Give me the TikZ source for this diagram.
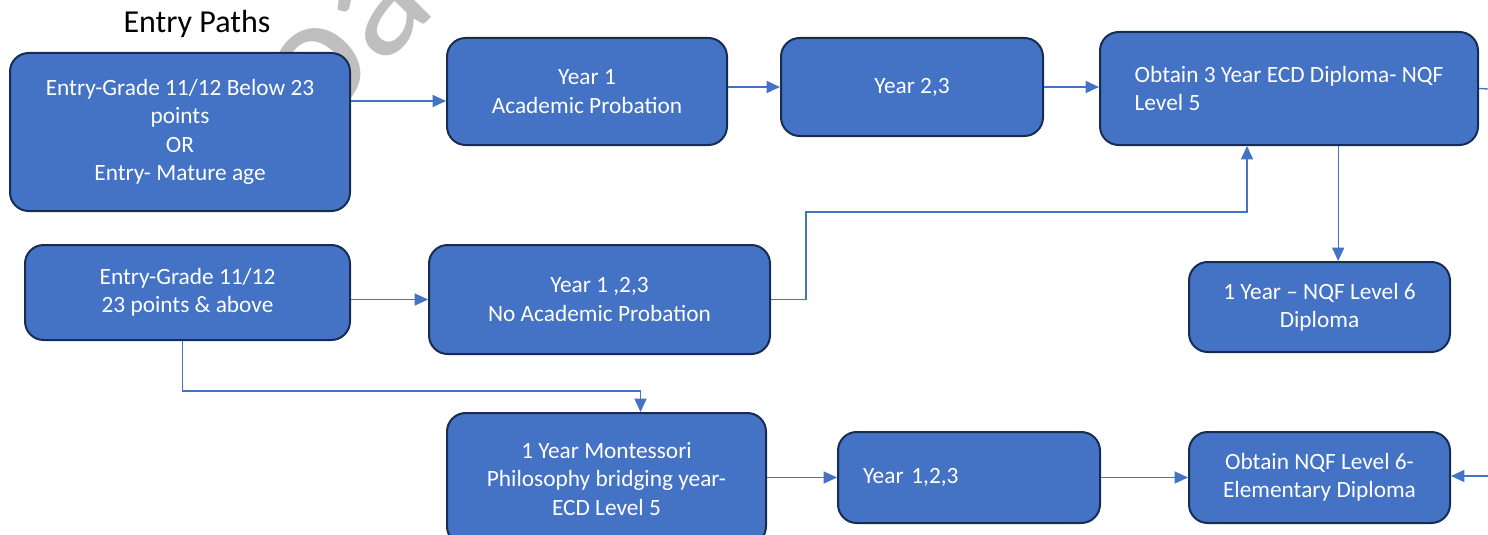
\documentclass[tikz,border=0pt]{standalone}
\usepackage{fontspec}
\setmainfont{Carlito}
\usetikzlibrary{arrows.meta}
\definecolor{boxblue}{HTML}{4472C4}
\definecolor{boxline}{HTML}{172C51}
\definecolor{wmgray}{HTML}{BFBFBF}
\begin{document}
\begin{tikzpicture}[x=0.75pt,y=0.75pt,yscale=-1,xscale=1,
  box/.style={draw=boxline,line width=1.5pt,fill=boxblue,rounded corners=14pt,text=white,align=center,inner sep=0pt,font=\fontsize{17.5}{21.3}\selectfont},
  link/.style={draw=boxblue,line width=1pt,-{Triangle[length=10pt,width=9pt]}}]
\useasboundingbox (0,0) rectangle (1488,535);
\node[text=wmgray,font=\fontsize{130}{130}\selectfont,rotate=45] (wm) at (348,42) {oa};
\node[font=\fontsize{24}{29}\selectfont] (title) at (197,24) {Entry Paths};
\node[box,minimum width=255pt,minimum height=118.5pt] (e1) at (180,132) {Entry-Grade 11/12 Below 23\\points\\OR\\Entry- Mature age};
\node[box,minimum width=210pt,minimum height=80.25pt] (y1) at (587,91.5) {Year 1\\Academic Probation};
\node[box,minimum width=196.5pt,minimum height=73.5pt] (y23) at (912,87) {Year 2,3};
\node[box,minimum width=283.5pt,minimum height=84.75pt,align=left] (dip3) at (1289,88.5) {Obtain 3 Year ECD Diploma- NQF\\Level 5};
\node[box,minimum width=243.75pt,minimum height=71.25pt] (e2) at (187.5,292.5) {Entry-Grade 11/12\\23 points \& above};
\node[box,minimum width=255.75pt,minimum height=81.75pt] (ynp) at (599.5,299.5) {Year 1 ,2,3\\No Academic Probation};
\node[box,minimum width=195.75pt,minimum height=67.5pt] (l6) at (1319.5,307) {1 Year – NQF Level 6\\Diploma};
\node[box,minimum width=239.25pt,minimum height=99pt] (mont) at (606.5,479) {1 Year Montessori\\Philosophy bridging year-\\ECD Level 5};
\node[box,minimum width=196.5pt,minimum height=68.25pt,text width=159pt,inner xsep=18.75pt,align=left] (y123) at (969,477.5) {Year 1,2,3};
\node[box,minimum width=195.75pt,minimum height=68.25pt] (elem) at (1319.5,477.5) {Obtain NQF Level 6-\\Elementary Diploma};
\coordinate (p1) at ([yshift=-23.25pt]e1.east);
\coordinate (p2) at ([xshift=14pt]l6.north);
\coordinate (p3) at (1247,212);
\coordinate (p4) at ([xshift=25.5pt]mont.north);
\coordinate (outR) at (1488,89);
\coordinate (inR) at (1488,476);
\draw[link] (p1) -- (p1 -| y1.west);
\draw[link] (y1.east |- y23.west) -- (y23.west);
\draw[link] (y23.east) -- (y23.east -| dip3.west);
\draw[link,-] (dip3.east) -- (outR);
\draw[link] (p2 |- dip3.south) -- (p2);
\draw[link] (e2.east |- ynp.west) -- (ynp.west);
\draw[link] (ynp.east) -- ++(35,0) |- (p3) -- (p3 |- dip3.south);
\draw[link] ([xshift=-4pt]e2.south) -- ++(0,50) -| (p4);
\draw[link] (mont.east |- y123.west) -- (y123.west);
\draw[link] (y123.east) -- (elem.west);
\draw[link] (inR) -- (inR -| elem.east);
\end{tikzpicture}
\end{document}
